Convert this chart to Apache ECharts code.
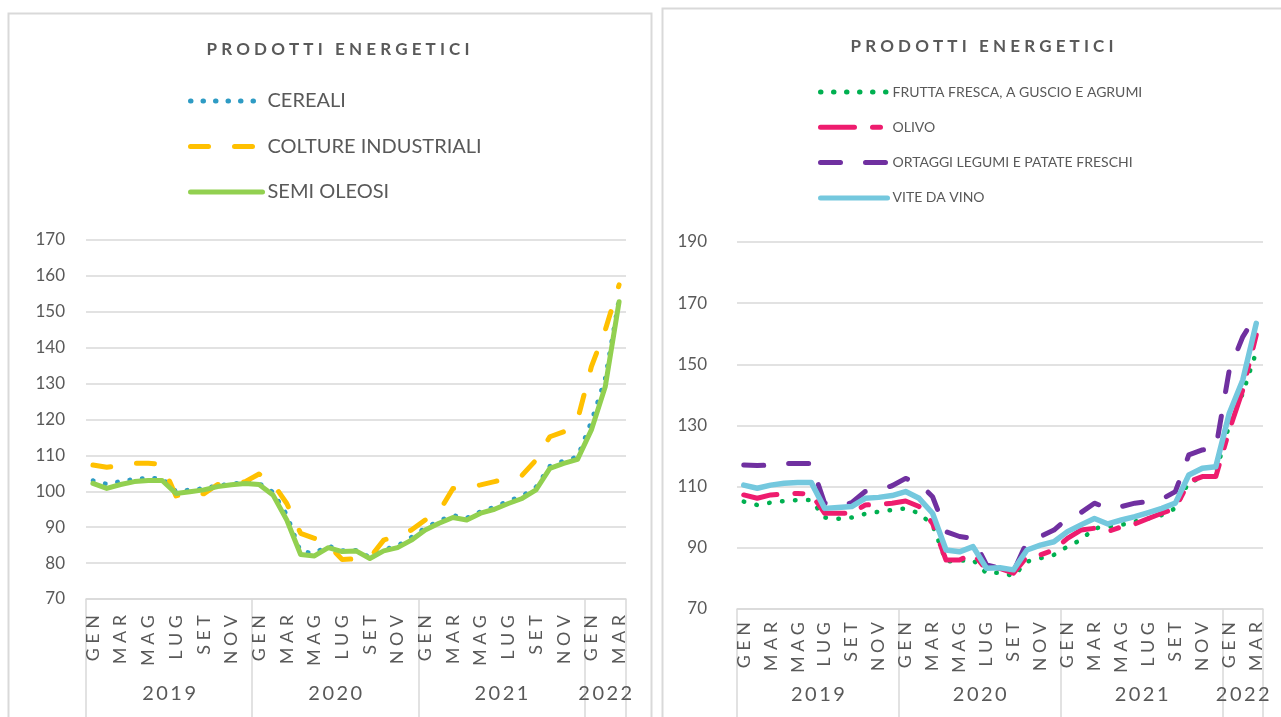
<!DOCTYPE html>
<html>
<head>
<meta charset="utf-8">
<title>Prodotti energetici</title>
<script src="https://cdn.jsdelivr.net/npm/echarts@6/dist/echarts.min.js"></script>
<style>
  html, body { margin: 0; padding: 0; background: #fff; }
  #chart { width: 1281px; height: 717px; }
</style>
</head>
<body>
<div id="chart"></div>
<script>
// --- data ---
const months = ['GEN', 'FEB', 'MAR', 'APR', 'MAG', 'GIU', 'LUG', 'AGO', 'SET', 'OTT', 'NOV', 'DIC'];
const years = ['2019', '2020', '2021', '2022'];
const monthsPerYear = [12, 12, 12, 3];

const leftTicks = [70, 80, 90, 100, 110, 120, 130, 140, 150, 160, 170];
const rightTicks = [70, 90, 110, 130, 150, 170, 190];

const cereali = [103.0, 102.0, 102.8, 103.4, 103.7, 103.6, 100.0, 100.4, 100.8, 101.6, 102.1, 102.5,
  102.2, 99.8, 93.5, 83.2, 82.8, 84.8, 83.5, 83.6, 81.6, 83.8, 84.8, 87.2,
  89.8, 91.8, 93.3, 92.6, 94.4, 95.6, 97.3, 98.7, 101.2, 107.0, 108.5, 109.6,
  119.5, 131.5, 153.7];
const coltureIndustriali = [107.3, 106.7, 107.1, 107.8, 107.8, 107.5, 98.7, 99.9, 99.3, 101.9, 101.8, 102.7,
  104.8, 102.2, 96.6, 88.3, 86.9, 85.0, 81.0, 81.2, 81.5, 86.4, 87.8, 89.2,
  92.0, 94.3, 100.8, 101.0, 101.8, 102.7, 103.6, 104.5, 108.7, 115.2, 116.6, 119.9,
  134.7, 144.9, 157.5];
const semiOleosi = [102.2, 100.8, 101.9, 102.7, 103.0, 103.0, 99.4, 99.9, 100.4, 101.3, 101.8, 102.2,
  101.9, 99.0, 92.0, 82.4, 82.0, 84.3, 83.2, 83.4, 81.3, 83.4, 84.3, 86.4,
  89.2, 91.1, 92.7, 92.0, 93.9, 95.0, 96.6, 98.0, 100.4, 106.4, 107.8, 108.9,
  117.1, 129.1, 152.8];

const frutta = [105.1, 104.0, 104.8, 105.3, 105.6, 105.6, 99.9, 99.5, 99.9, 101.1, 101.8, 102.4,
  102.9, 101.3, 97.5, 85.5, 85.8, 86.0, 81.7, 81.9, 80.8, 85.5, 86.6, 87.7,
  90.4, 92.6, 96.4, 96.9, 97.5, 98.6, 99.6, 100.7, 102.9, 111.6, 112.7, 114.4,
  130.2, 140.5, 154.1];
const olivo = [107.3, 106.2, 107.3, 107.6, 107.8, 107.6, 101.3, 101.3, 101.3, 104.0, 104.2, 104.6,
  105.3, 103.5, 98.0, 86.0, 86.0, 88.2, 82.8, 83.3, 81.7, 87.1, 87.7, 89.3,
  93.1, 95.8, 96.4, 95.3, 96.9, 97.8, 99.6, 101.3, 102.9, 111.6, 113.3, 113.3,
  128.5, 141.6, 159.6];
const ortaggi = [117.1, 116.9, 117.1, 117.6, 117.6, 117.6, 104.6, 103.5, 104.8, 108.4, 108.9, 110.3,
  112.7, 111.1, 106.7, 95.3, 93.7, 93.1, 84.4, 83.3, 82.2, 92.0, 93.7, 95.8,
  99.6, 101.5, 104.6, 102.9, 103.5, 104.6, 105.1, 105.9, 108.4, 120.4, 122.0, 122.5,
  148.1, 159.0, 166.0];
const viteDaVino = [110.5, 109.5, 110.5, 111.1, 111.4, 111.4, 102.9, 103.2, 103.5, 106.2, 106.5, 107.1,
  108.4, 106.2, 101.3, 89.3, 88.7, 90.4, 83.3, 83.5, 82.8, 89.3, 90.9, 92.0,
  95.3, 97.5, 99.6, 97.8, 99.1, 100.2, 101.5, 102.9, 104.6, 113.8, 116.0, 116.5,
  134.0, 144.9, 163.4];

// --- derived axes ---
const categories = [];
years.forEach((y, k) => {
  for (let m = 0; m < monthsPerYear[k]; m++) categories.push(months[m]);
});
const yearBounds = [0];
monthsPerYear.forEach(n => yearBounds.push(yearBounds[yearBounds.length - 1] + n));
const yearMids = years.map((y, k) => (yearBounds[k] + yearBounds[k + 1]) / 2);

const spaced = (s, sep) => s.split('').join(sep);
const grey = '#595959';
const lineGrey = '#d9d9d9';
const font = 'Lato, "Open Sans", sans-serif';
const titleText = spaced('PRODOTTI', ' ') + '   ' + spaced('ENERGETICI', ' ');

function monthAxis(gridIndex, margin) {
  return {
    type: 'category', gridIndex, data: categories, boundaryGap: true,
    axisLine: { lineStyle: { color: lineGrey, width: 1.5 } },
    axisTick: { show: false },
    axisLabel: {
      interval: 1, rotate: 90, margin, fontSize: 18, color: grey, fontFamily: font,
      formatter: v => spaced(v, '\u2005')
    },
    splitLine: { show: false }
  };
}
function yearAxis(gridIndex, margin) {
  return {
    type: 'value', gridIndex, position: 'bottom', min: 0, max: categories.length,
    axisLine: { show: false },
    axisTick: { show: true, length: 118, customValues: yearBounds, lineStyle: { color: lineGrey, width: 1.5 } },
    axisLabel: {
      customValues: yearMids, margin, fontSize: 20, color: grey, fontFamily: font,
      formatter: v => spaced(years[yearMids.indexOf(v)] || '', '\u2009')
    },
    splitLine: { show: false }
  };
}
function valueAxis(gridIndex, ticks, margin) {
  return {
    type: 'value', gridIndex, min: ticks[0], max: ticks[ticks.length - 1], interval: ticks[1] - ticks[0],
    axisLine: { show: false }, axisTick: { show: false },
    axisLabel: { margin, fontSize: 17, color: grey, fontFamily: font },
    splitLine: { lineStyle: { color: lineGrey, width: 1.5 } }
  };
}
function line(name, data, axis, color, width, type) {
  return {
    name, type: 'line', data, xAxisIndex: axis * 2, yAxisIndex: axis,
    symbol: 'none', animation: false,
    lineStyle: { color, width, type, cap: 'round', join: 'round' },
    itemStyle: { color }
  };
}

const chart = echarts.init(document.getElementById('chart'));
chart.setOption({
  backgroundColor: '#fff',
  animation: false,
  graphic: [
    { type: 'rect', shape: { x: 8.5, y: 13.5, width: 643, height: 720 }, style: { fill: 'none', stroke: lineGrey, lineWidth: 2 }, silent: true },
    { type: 'rect', shape: { x: 662.5, y: 8.5, width: 640, height: 720 }, style: { fill: 'none', stroke: lineGrey, lineWidth: 2 }, silent: true }
  ],
  title: [
    { text: titleText, left: 333, top: 36, textAlign: 'center',
      textStyle: { fontSize: 17, fontWeight: 'bold', color: grey, fontFamily: font } },
    { text: titleText, left: 977, top: 33, textAlign: 'center',
      textStyle: { fontSize: 17, fontWeight: 'bold', color: grey, fontFamily: font } }
  ],
  legend: [
    { data: ['CEREALI', 'COLTURE INDUSTRIALI', 'SEMI OLEOSI'], orient: 'vertical', left: 183, top: 86,
      itemWidth: 72, itemHeight: 14, itemGap: 25.5,
      itemStyle: { opacity: 0 }, lineStyle: { width: 5, cap: 'round' },
      textStyle: { fontSize: 20, color: grey, fontFamily: font } },
    { data: ['FRUTTA FRESCA, A GUSCIO E AGRUMI', 'OLIVO', 'ORTAGGI LEGUMI E PATATE FRESCHI', 'VITE DA VINO'],
      orient: 'vertical', left: 813, top: 80,
      itemWidth: 67, itemHeight: 14, itemGap: 21.3,
      itemStyle: { opacity: 0 }, lineStyle: { width: 5, cap: 'round' },
      textStyle: { fontSize: 14, color: grey, fontFamily: font } }
  ],
  grid: [
    { left: 86, top: 240, width: 540, height: 359 },
    { left: 737, top: 242, width: 526, height: 367 }
  ],
  xAxis: [monthAxis(0, 16), yearAxis(0, 85), monthAxis(1, 13), yearAxis(1, 76)],
  yAxis: [valueAxis(0, leftTicks, 21), valueAxis(1, rightTicks, 30)],
  series: [
    line('CEREALI', cereali, 0, '#2e9bc4', 4.5, [0.5, 12]),
    line('COLTURE INDUSTRIALI', coltureIndustriali, 0, '#ffc000', 5, [18, 26]),
    line('SEMI OLEOSI', semiOleosi, 0, '#92d050', 5, 'solid'),
    line('FRUTTA FRESCA, A GUSCIO E AGRUMI', frutta, 1, '#00b050', 4.5, [0.5, 12.5]),
    line('OLIVO', olivo, 1, '#ee1c6e', 5, [34, 18, 8, 18]),
    line('ORTAGGI LEGUMI E PATATE FRESCHI', ortaggi, 1, '#7030a0', 5, [20, 25]),
    line('VITE DA VINO', viteDaVino, 1, '#74c8de', 5.5, 'solid')
  ]
});
</script>
</body>
</html>
